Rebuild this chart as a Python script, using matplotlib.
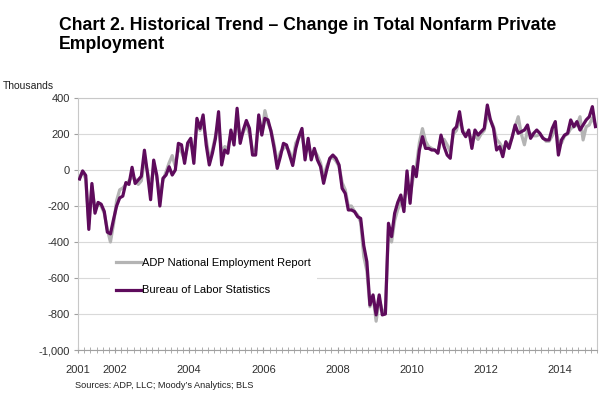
import matplotlib
matplotlib.use("Agg")
import matplotlib.pyplot as plt
import numpy as np
from matplotlib.ticker import FixedLocator, MultipleLocator

plt.rcParams['font.family'] = ['Liberation Sans', 'DejaVu Sans']

# monthly change, thousands, Jan 2001 - Dec 2014
bls = [
    -50, -5, -30, -330, -75, -240, -180, -190, -230, -345, -355, -275,  # 2001
    -200, -155, -145, -70, -80, 15, -75, -55, -35, 110, -20, -165,  # 2002
    55, -30, -200, -46, -28, 18, -28, 0, 148, 140, 37, 150,  # 2003
    176, 37, 287, 231, 306, 139, 28, 93, 176, 324, 28, 111,  # 2004
    93, 222, 139, 343, 148, 222, 275, 231, 83, 83, 306, 194,  # 2005
    287, 278, 213, 120, 9, 74, 148, 139, 83, 25, 120, 185,  # 2006
    231, 56, 176, 56, 120, 56, 19, -74, 0, 65, 83, 65,  # 2007
    28, -102, -130, -222, -222, -231, -259, -269, -420, -509, -750, -694,  # 2008
    -805, -694, -805, -800, -296, -370, -240, -180, -139, -231, -5, -185,  # 2009
    19, -37, 110, 185, 120, 120, 111, 111, 93, 194, 130, 83,  # 2010
    65, 222, 240, 324, 213, 185, 222, 120, 222, 194, 213, 231,  # 2011
    361, 278, 231, 111, 130, 74, 157, 120, 180, 250, 204, 213,  # 2012
    222, 250, 176, 204, 222, 204, 176, 167, 167, 231, 269, 83,  # 2013
    167, 194, 204, 278, 241, 269, 222, 250, 278, 296, 352, 241,  # 2014
]
adp = [
    -40, -10, -50, -300, -90, -220, -190, -200, -240, -330, -400, -300,
    -170, -110, -100, -80, -60, -40, -50, -80, -60, 60, -10, -100,
    20, -40, -150, -60, -10, 40, 80, 20, 120, 100, 60, 130,
    160, 80, 250, 220, 260, 170, 60, 110, 190, 260, 90, 130,
    120, 200, 170, 280, 180, 210, 250, 200, 110, 110, 270, 200,
    330, 260, 220, 140, 40, 100, 120, 130, 100, 50, 150, 180,
    200, 90, 150, 80, 110, 80, 40, -40, 20, 60, 70, 50,
    20, -70, -110, -200, -200, -230, -250, -290, -480, -560, -760, -700,
    -840, -720, -780, -790, -330, -400, -280, -220, -180, -170, -100, -150,
    -40, 20, 150, 230, 160, 130, 120, 110, 100, 170, 170, 140,
    100, 200, 220, 280, 220, 200, 200, 170, 190, 170, 200, 220,
    300, 280, 240, 170, 150, 120, 140, 140, 180, 240, 296, 200,
    140, 220, 200, 190, 190, 200, 180, 160, 160, 190, 230, 160,
    150, 190, 200, 230, 240, 250, 296, 167, 240, 250, 290, 250,
]
year_ticks = [2001, 2002, 2004, 2006, 2008, 2010, 2012, 2014]
y_ticks = [-1000, -800, -600, -400, -200, 0, 200, 400]

dates = 2001 + (np.arange(len(bls)) + 0.5) / 12

fig = plt.figure(figsize=(6.16, 3.97), dpi=100)
ax = fig.add_axes([78 / 616, 1 - 350 / 397, 519 / 616, 252 / 397])

grid_col = '#d9d9d9'
ax.plot(dates, adp, color='#b4b4b4', lw=2.3, label='ADP National Employment Report', zorder=3)
ax.plot(dates, bls, color='#5e0b5c', lw=2.3, label='Bureau of Labor Statistics', zorder=4)

ax.set_xlim(2001, 2015)
ax.set_ylim(-1000, 400)
ax.yaxis.set_major_locator(FixedLocator(y_ticks))
ax.set_yticklabels([f"{v:,}" for v in y_ticks])
ax.xaxis.set_major_locator(FixedLocator(year_ticks))
ax.xaxis.set_minor_locator(MultipleLocator(2 / 12))
ax.set_xticklabels([str(y) for y in year_ticks])
ax.grid(axis='y', color=grid_col, lw=0.8, zorder=0)

for side in ['left', 'bottom', 'right', 'top']:
    ax.spines[side].set_color('#c8c8c8')
    ax.spines[side].set_linewidth(0.8)
ax.spines['bottom'].set_color('#a0a0a0')

ax.tick_params(axis='y', length=3, color='#a0a0a0', labelsize=8, labelcolor='#303030', pad=3)
ax.tick_params(axis='x', which='both', direction='inout', length=5, color='#a0a0a0',
               labelsize=8, labelcolor='#303030', pad=8)

leg = ax.legend(loc='upper left', bbox_to_anchor=(0.05, 0.415), frameon=True, fontsize=8,
                handlelength=2.2, handletextpad=0.1, labelspacing=1.6, borderpad=0.6)
leg.get_frame().set_facecolor('white')
leg.get_frame().set_edgecolor('none')
leg.get_frame().set_alpha(1)
leg.set_zorder(5)

fig.text(59 / 616, 1 - 17 / 397, "Chart 2. Historical Trend \u2013 Change in Total Nonfarm Private\nEmployment",
         fontsize=12.7, fontweight='bold', va='top', ha='left', linespacing=1.12)
fig.text(3 / 616, 1 - 86 / 397, "Thousands", fontsize=7.5, va='center', ha='left', color='#202020')
fig.text(75 / 616, 1 - 386 / 397, "Sources: ADP, LLC; Moody\u2019s Analytics; BLS", fontsize=6.6,
         va='center', ha='left', color='#202020')

fig.savefig("out.png", dpi=100)
